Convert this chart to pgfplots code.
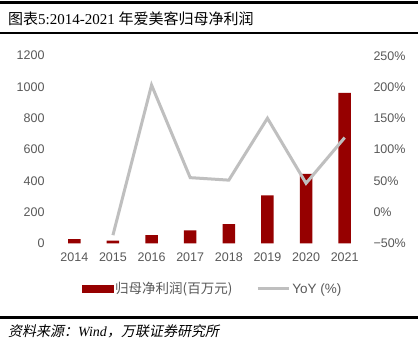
\documentclass[border=0pt]{standalone}
\usepackage{fontspec}
\usepackage{pgfplots}
\pgfplotsset{compat=1.18}
\setmainfont{Liberation Serif}
\newfontfamily\cjk{Noto Sans CJK SC}
\newfontfamily\cjksl[FakeSlant=0.2]{Noto Sans CJK SC}
\newfontfamily\arial{Liberation Sans}
\definecolor{barred}{RGB}{150,0,0}
\definecolor{linegray}{RGB}{191,191,191}
\definecolor{txtgray}{RGB}{89,89,89}
\begin{document}
\begin{tikzpicture}
\useasboundingbox (0pt,0pt) rectangle (418pt,-352pt);
\fill[white] (0pt,0pt) rectangle (418pt,-352pt);
% rules
\draw[line width=2.2pt] (0pt,-2.5pt) -- (418pt,-2.5pt);
\draw[line width=2.2pt] (0pt,-32.8pt) -- (418pt,-32.8pt);
\draw[line width=2.2pt] (0pt,-317.5pt) -- (418pt,-317.5pt);
\node[anchor=west,inner sep=0pt,font=\fontsize{15}{18}\selectfont] at (8pt,-18.5pt) {{\cjk 图表}5:2014-2021 {\cjk 年爱美客归母净利润}};
\node[anchor=west,inner sep=0pt,font=\fontsize{14}{17}\selectfont] at (8pt,-331.5pt) {{\cjksl 资料来源：}\textit{Wind}{\cjksl ，万联证券研究所}};
\begin{axis}[
  at={(55pt,-243.3pt)}, anchor=south west, scale only axis,
  width=309pt, height=187.6pt,
  xmin=-0.5, xmax=7.5, ymin=0, ymax=1200,
  xtick={0,...,7}, xticklabels={2014,2015,2016,2017,2018,2019,2020,2021},
  ytick={0,200,...,1200},
  axis line style={draw=none}, major tick length=0pt,
  ticklabel style={font=\arial\fontsize{12.5}{14}\selectfont, text=txtgray},
  /pgf/number format/assume math mode=true,
  /pgf/number format/1000 sep={},
  yticklabel style={xshift=-7pt},
  xticklabel style={yshift=-6pt},
  clip=false,
]
\addplot[ybar, bar width=12.5pt, fill=barred, draw=none] coordinates {
(0,27) (1,17) (2,53) (3,82) (4,122) (5,307) (6,444) (7,962)};
\end{axis}
\begin{axis}[
  at={(55pt,-243.3pt)}, anchor=south west, scale only axis,
  width=309pt, height=187.6pt,
  xmin=-0.5, xmax=7.5, ymin=-50, ymax=250,
  axis y line*=right, axis x line=none,
  ytick={-50,0,50,100,150,200,250},
  yticklabels={−50\%,0\%,50\%,100\%,150\%,200\%,250\%},
  axis line style={draw=none}, major tick length=0pt,
  ticklabel style={font=\arial\fontsize{12.5}{14}\selectfont, text=txtgray},
  yticklabel style={xshift=6pt},
  legend columns=2,
  legend style={at={(0.51,-0.2436)}, anchor=center, draw=none, fill=none,
    font=\cjk\fontsize{13.5}{15}\selectfont, text=txtgray,
    /tikz/every even column/.append style={column sep=22pt}},
  clip=false,
]
\addlegendimage{legend image code/.code={\fill[barred] (0pt,-3.4pt) rectangle (31pt,3.4pt);}}
\addlegendentry{归母净利润(百万元)}
\addplot[linegray, line width=3pt, line join=miter,
  legend image code/.code={\draw[linegray, line width=3pt] (0pt,0pt) -- (31pt,0pt);}]
  coordinates {(1,-37) (2,203) (3,55) (4,51) (5,150) (6,46) (7,119)};
\addlegendentry{{\arial\fontsize{13.5}{15}\selectfont YoY (\%)}}
\end{axis}
\end{tikzpicture}
\end{document}
